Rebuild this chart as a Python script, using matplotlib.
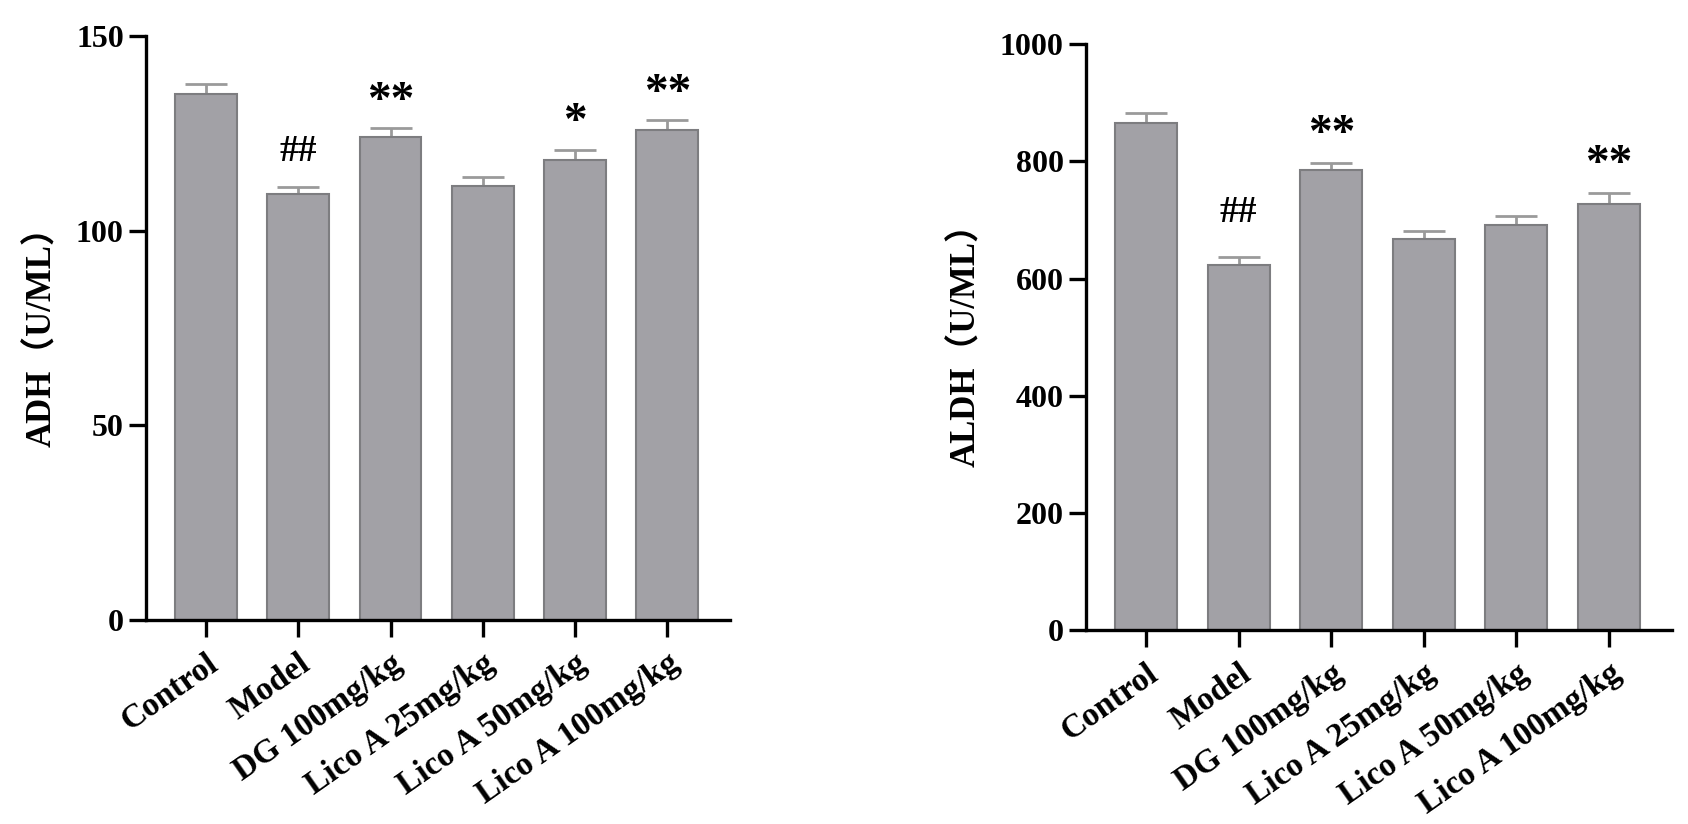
import matplotlib
matplotlib.use("Agg")
import matplotlib.pyplot as plt
import numpy as np

categories = ["Control", "Model", "DG 100mg/kg", "Lico A 25mg/kg", "Lico A 50mg/kg", "Lico A 100mg/kg"]

adh_values = [135.0, 109.3, 124.0, 111.4, 118.1, 125.8]
adh_err = [2.6, 2.0, 2.3, 2.5, 2.5, 2.5]
adh_marks = ["", "##", "**", "", "*", "**"]
adh_mark_y = [0, 120.4, 133.0, 0, 127.7, 135.0]
adh_ticks = [0, 50, 100, 150]

aldh_values = [866, 623, 786, 667, 692, 728]
aldh_err = [17, 14, 11, 14, 14, 18]
aldh_marks = ["", "##", "**", "", "", "**"]
aldh_mark_y = [0, 712, 845, 0, 0, 793]
aldh_ticks = [0, 200, 400, 600, 800, 1000]

plt.rcParams['font.family'] = ['Liberation Serif', 'Noto Sans CJK SC', 'DejaVu Sans']
plt.rcParams['font.weight'] = 'bold'

fig = plt.figure(figsize=(16.88, 8.24), dpi=100)

bar_face = "#a2a1a6"
bar_edge = "#7d7d80"
err_col = "#9a9a9a"


def panel(rect, values, errs, marks, mark_y, ticks, ylabel):
    ax = fig.add_axes(rect)
    x = np.arange(len(categories))
    ax.bar(x, values, width=0.67, color=bar_face, edgecolor=bar_edge, linewidth=1.5, zorder=2)
    ax.errorbar(x, values, yerr=[np.zeros(len(errs)), errs], fmt='none', ecolor=err_col,
                elinewidth=2.0, capsize=15, capthick=2.0, zorder=1)
    for xi, m, my in zip(x, marks, mark_y):
        if m:
            size = 34 if '*' in m else 27
            ax.text(xi, my, m, ha='center', va='center', fontsize=size, fontweight='bold')
    ax.set_xlim(-0.65, 5.68)
    ax.set_ylim(ticks[0], ticks[-1])
    ax.set_yticks(ticks)
    ax.set_xticks(x)
    ax.set_xticklabels(categories, rotation=35, ha='right', va='top', rotation_mode='anchor',
                       fontsize=24, fontweight='bold')
    for lab in ax.get_yticklabels():
        lab.set_fontsize(23)
        lab.set_fontweight('bold')
    for s in ['top', 'right']:
        ax.spines[s].set_visible(False)
    for s in ['left', 'bottom']:
        ax.spines[s].set_linewidth(2.4)
    ax.tick_params(axis='both', direction='out', length=12, width=2.4, pad=4)
    ax.tick_params(axis='x', pad=8)
    ax.set_ylabel(ylabel, fontsize=25, fontweight='bold', labelpad=12)
    ax.spines['left'].set_bounds(ticks[0], ticks[-1])
    return ax


panel([0.0865, 0.2476, 0.346, 0.7087], adh_values, adh_err, adh_marks, adh_mark_y, adh_ticks,
      "ADH（U/ML）")
panel([0.6434, 0.2354, 0.347, 0.711], aldh_values, aldh_err, aldh_marks, aldh_mark_y, aldh_ticks,
      "ALDH（U/ML）")

fig.savefig("out.png", dpi=100)
